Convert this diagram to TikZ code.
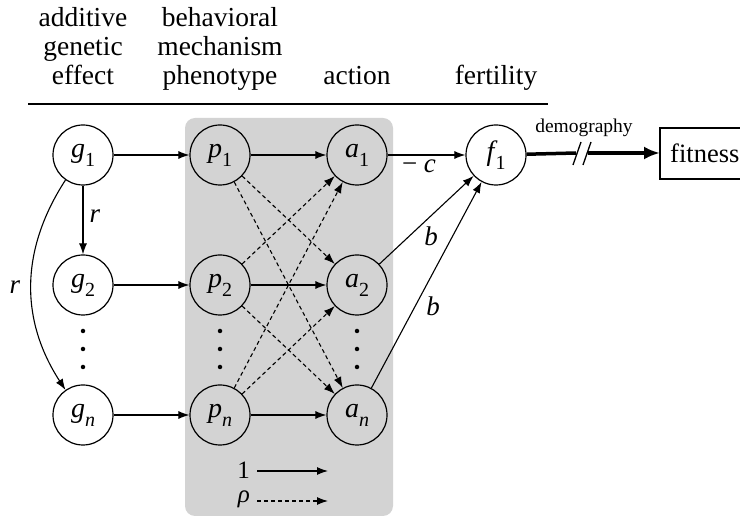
\documentclass[tikz,border=0pt]{standalone}
\usepackage{fontspec}
\setmainfont{Liberation Serif}
\usetikzlibrary{arrows.meta}
\definecolor{boxgray}{RGB}{211,211,211}
\newcommand\nlab[2]{\textit{#1}\raisebox{-0.32em}{\fontsize{20}{20}\selectfont #2}}
\begin{document}
\begin{tikzpicture}[x=1pt,y=-1pt,
  every node/.style={font=\fontsize{27}{30}\selectfont},
  vnode/.style={circle,draw,line width=1.2pt,minimum size=60pt,inner sep=0pt,fill=white},
  gnode/.style={circle,draw,line width=1.2pt,minimum size=60pt,inner sep=0pt,font=\fontsize{28}{30}\selectfont},
  hdr/.style={anchor=base,font=\fontsize{27.5}{30}\selectfont,inner sep=0pt},
  arr/.style={line width=1.1pt,-{Latex[length=11pt,width=8pt]}},
  darr/.style={line width=1.1pt,dash pattern=on 4pt off 3pt,-{Latex[length=11pt,width=8pt]}},
  dotn/.style={circle,fill=black,inner sep=0pt,minimum size=4.5pt},
  lbl/.style={font=\fontsize{27}{30}\selectfont,inner sep=0pt},
  leg/.style={font=\fontsize{25}{26}\selectfont,inner sep=0pt,anchor=base east}]
\useasboundingbox (0,0) rectangle (740,518);
% gray panel
\fill[boxgray,rounded corners=10pt] (185,118) rectangle (393,516);
% headers
\node[hdr] (h1a) at (83,27) {additive};
\node[hdr] (h1b) at (83,56) {genetic};
\node[hdr] (h1c) at (83,85) {effect};
\node[hdr] (h2a) at (220,27) {behavioral};
\node[hdr] (h2b) at (220,56) {mechanism};
\node[hdr] (h2c) at (220,85) {phenotype};
\node[hdr] (h3) at (357,85) {action};
\node[hdr] (h4) at (496,85) {fertility};
\coordinate (rl) at (28,104);
\coordinate (rr) at (548,104);
\draw[line width=1.5pt] (rl) -- (rr);
% nodes
\node[gnode] (g1) at (83,155) {\nlab{g}{1}};
\node[gnode] (g2) at (83,285) {\nlab{g}{2}};
\node[gnode] (gn) at (83,415) {\nlab{g}{\textit{n}}};
\node[gnode] (p1) at (220,155) {\nlab{p}{1}};
\node[gnode] (p2) at (220,285) {\nlab{p}{2}};
\node[gnode] (pn) at (220,415) {\nlab{p}{\textit{n}}};
\node[gnode] (a1) at (357,155) {\nlab{a}{1}};
\node[gnode] (a2) at (357,285) {\nlab{a}{2}};
\node[gnode] (an) at (357,415) {\nlab{a}{\textit{n}}};
\node[vnode,font=\fontsize{28}{30}\selectfont] (f1) at (496,155) {\nlab{f}{\kern-2pt1}};
% fitness box (runs past the right edge)
\node[anchor=west,inner sep=0pt,font=\fontsize{26.5}{30}\selectfont] (fit) at (670,153) {fitness};
\coordinate (fbtl) at (660,128);
\coordinate (fbtr) at (770,128);
\coordinate (fbbl) at (660,179);
\coordinate (fbbr) at (770,179);
\coordinate (fbin) at (660,153);
\draw[line width=1.2pt] (fbtr) -- (fbtl) -- (fbbl) -- (fbbr);
% dots
\foreach \c/\x in {g/83,p/220,a/357}{
  \node[dotn] (\c d1) at (\x,331) {};
  \node[dotn] (\c d2) at (\x,349) {};
  \node[dotn] (\c d3) at (\x,367) {};
}
% g edges
\draw[arr] (g1) -- node[lbl,right=6pt,pos=0.45] (rlab1) {\textit{r}} (g2);
\draw[arr] (g1.235) .. controls (20,250) and (20,320) .. (gn.125);
\node[lbl] (rlab2) at (15,287) {\textit{r}};
\draw[arr] (g1) -- (p1);
\draw[arr] (g2) -- (p2);
\draw[arr] (gn) -- (pn);
% p to a
\draw[arr] (p1) -- (a1);
\draw[arr] (p2) -- (a2);
\draw[arr] (pn) -- (an);
\draw[darr] (p1) -- (a2);
\draw[darr] (p1) -- (an);
\draw[darr] (p2) -- (a1);
\draw[darr] (p2) -- (an);
\draw[darr] (pn) -- (a1);
\draw[darr] (pn) -- (a2);
% a to f
\draw[arr] (a1) -- (f1);
\node[lbl] (clab) at (419,166) {− \textit{c}};
\draw[arr] (a2) -- (f1);
\node[lbl] (blab1) at (431,236) {\textit{b}};
\draw[arr] (an) -- (f1);
\node[lbl] (blab2) at (433,306) {\textit{b}};
% demography
\coordinate (s1) at (576,153);
\coordinate (s2) at (588,153);
\draw[line width=3.5pt] (f1) -- (s1);
\draw[line width=3.5pt,-{Latex[length=16pt,width=13pt]}] (s2) -- (fbin);
\draw[line width=1.3pt] (573,165) -- (581,142);
\draw[line width=1.3pt] (583,165) -- (591,142);
\node[anchor=base,inner sep=0pt,font=\fontsize{19.5}{22}\selectfont] (demo) at (584,133) {demography};
% legend
\node[leg] (one) at (250,479) {1};
\coordinate (l1a) at (257,471);
\coordinate (l1b) at (328,471);
\draw[arr] (l1a) -- (l1b);
\node[leg] (rho) at (250,503) {\textit{ρ}};
\coordinate (l2a) at (257,501);
\coordinate (l2b) at (328,501);
\draw[darr] (l2a) -- (l2b);
\end{tikzpicture}
\end{document}
